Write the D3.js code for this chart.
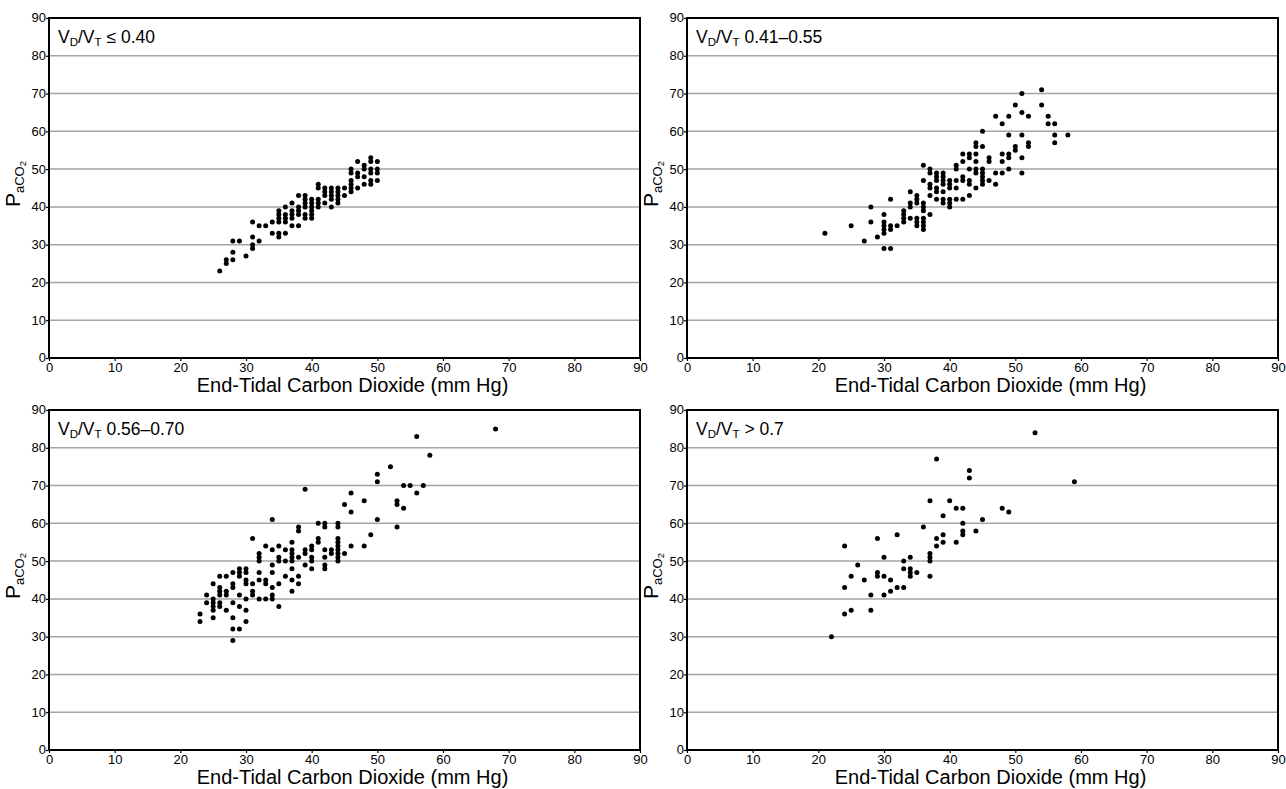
<!DOCTYPE html>
<meta charset="utf-8">
<style>
body { margin: 0; background: #fff; }
text { font-family: "Liberation Sans", Arial, sans-serif; fill: #000; }
.tick text { font-family: "Liberation Sans Narrow", "Liberation Sans", Arial, sans-serif; }
</style>
<svg width="1286" height="789"></svg>
<script src="https://d3js.org/d3.v7.min.js"></script>
<script>
// axis ticks (both axes run 0-90 mm Hg)
var tickValues = [0, 10, 20, 30, 40, 50, 60, 70, 80, 90];
var gridValues = [10, 20, 30, 40, 50, 60, 70, 80];

// panel labels, VD/VT ranges
var ranges = ["\u2264 0.40", "0.41\u20130.55", "0.56\u20130.70", "> 0.7"];

// [end-tidal CO2, PaCO2]
var lowVd = [
  [26,23],[27,25],[27,26],[28,26],[28,28],[28,31],[29,31],[30,27],
  [31,29],[31,30],[31,32],[31,36],[32,31],[32,35],[33,35],[34,33],[34,36],
  [35,32],[35,33],[35,36],[35,37],[35,38],[35,39],
  [36,33],[36,36],[36,37],[36,38],[36,40],
  [37,35],[37,37],[37,38],[37,39],[37,41],
  [38,35],[38,38],[38,39],[38,40],[38,43],
  [39,37],[39,38],[39,40],[39,41],[39,42],[39,43],
  [40,37],[40,38],[40,39],[40,40],[40,41],[40,42],
  [41,40],[41,41],[41,42],[41,45],[41,46],
  [42,41],[42,43],[42,44],[42,45],
  [43,40],[43,42],[43,43],[43,44],[43,45],
  [44,41],[44,42],[44,43],[44,44],[44,45],
  [45,43],[45,45],
  [46,44],[46,45],[46,46],[46,47],[46,49],[46,50],
  [47,45],[47,48],[47,49],[47,52],
  [48,46],[48,48],[48,50],[48,51],
  [49,46],[49,47],[49,49],[49,50],[49,52],[49,53],
  [50,47],[50,49],[50,50],[50,52]
];

var midVd = [
  [21,33],[25,35],[27,31],[28,40],[28,36],[29,32],
  [30,38],[30,36],[30,35],[30,34],[30,33],[30,29],
  [31,42],[31,35],[31,34],[31,29],[32,35],
  [33,39],[33,38],[33,37],[33,36],
  [34,44],[34,41],[34,40],[34,37],
  [35,43],[35,42],[35,41],[35,37],[35,36],[35,35],
  [36,51],[36,47],[36,41],[36,40],[36,39],[36,37],[36,36],[36,35],[36,34],
  [37,50],[37,49],[37,46],[37,45],[37,43],[37,38],
  [38,49],[38,48],[38,47],[38,45],[38,44],[38,42],
  [39,49],[39,48],[39,47],[39,46],[39,44],[39,42],[39,41],
  [40,47],[40,46],[40,45],[40,42],[40,41],[40,40],
  [41,51],[41,50],[41,47],[41,45],[41,42],
  [42,54],[42,52],[42,48],[42,47],[42,42],
  [43,54],[43,53],[43,50],[43,47],[43,46],[43,43],
  [44,57],[44,56],[44,54],[44,52],[44,50],[44,49],[44,45],
  [45,60],[45,56],[45,50],[45,49],[45,48],[45,47],[45,46],
  [46,53],[46,52],[46,47],
  [47,64],[47,49],[47,46],
  [48,62],[48,54],[48,52],[48,49],
  [49,64],[49,59],[49,54],[49,53],[49,50],
  [50,67],[50,56],[50,55],
  [51,70],[51,65],[51,59],[51,53],[51,49],
  [52,64],[52,57],[52,56],
  [54,71],[54,67],[55,64],[55,62],
  [56,62],[56,59],[56,57],[58,59]
];

var highVd = [
  [23,36],[23,34],[24,41],[24,39],
  [25,44],[25,40],[25,39],[25,38],[25,37],[25,35],
  [26,46],[26,43],[26,42],[26,41],[26,39],[26,38],
  [27,46],[27,42],[27,41],[27,37],
  [28,47],[28,44],[28,43],[28,39],[28,35],[28,32],[28,29],
  [29,48],[29,47],[29,46],[29,41],[29,38],[29,32],
  [30,48],[30,47],[30,45],[30,44],[30,40],[30,37],[30,34],
  [31,56],[31,44],[31,42],[31,41],
  [32,52],[32,51],[32,50],[32,47],[32,45],[32,40],
  [33,54],[33,45],[33,44],[33,40],
  [34,61],[34,53],[34,49],[34,47],[34,43],[34,41],[34,40],
  [35,54],[35,51],[35,50],[35,44],[35,38],
  [36,53],[36,50],[36,46],
  [37,55],[37,53],[37,52],[37,51],[37,50],[37,48],[37,45],[37,42],
  [38,59],[38,58],[38,51],[38,46],[38,44],
  [39,69],[39,53],[39,52],[39,49],
  [40,54],[40,53],[40,51],[40,50],[40,48],
  [41,60],[41,56],[41,55],
  [42,60],[42,59],[42,53],[42,51],[42,49],[42,48],
  [43,53],[43,52],
  [44,60],[44,59],[44,56],[44,55],[44,54],[44,53],[44,52],[44,51],[44,50],
  [45,65],[45,52],[46,68],[46,63],[46,54],[48,66],[48,54],[49,57],
  [50,73],[50,71],[50,61],[52,75],[53,66],[53,65],[53,59],
  [54,70],[54,64],[55,70],[56,83],[56,68],[57,70],[58,78],[68,85]
];

var veryHighVd = [
  [22,30],[24,54],[24,43],[24,36],[25,46],[25,37],[26,49],[27,45],
  [28,41],[28,37],[29,56],[29,47],[29,46],[30,51],[30,46],[30,41],
  [31,45],[31,42],[32,57],[32,43],[33,50],[33,48],[33,43],
  [34,51],[34,48],[34,47],[34,46],[35,47],[36,59],
  [37,66],[37,52],[37,51],[37,50],[37,46],[38,77],[38,56],[38,54],
  [39,62],[39,57],[39,55],[40,66],[41,64],[41,55],
  [42,64],[42,60],[42,58],[42,57],[43,74],[43,72],[44,58],[45,61],
  [48,64],[49,63],[53,84],[59,71]
];

var svg = d3.select("svg");

var plotW = 591, plotH = 340;

var panels = [
  {range: ranges[0], data: lowVd, left: 49, top: 18},
  {range: ranges[1], data: midVd, left: 687, top: 18},
  {range: ranges[2], data: highVd, left: 49, top: 410},
  {range: ranges[3], data: veryHighVd, left: 687, top: 410}
];

var x = d3.scaleLinear().domain([0, 90]).range([0, plotW]);
var y = d3.scaleLinear().domain([0, 90]).range([plotH, 0]);

panels.forEach(function(p) {
  var g = svg.append("g").attr("transform", "translate(" + p.left + "," + p.top + ")");

  // horizontal gridlines
  g.append("g").selectAll("line")
    .data(gridValues)
    .join("line")
    .attr("x1", 0).attr("x2", plotW)
    .attr("y1", d => y(d)).attr("y2", d => y(d))
    .attr("stroke", "#a4a4a4")
    .attr("stroke-width", 1.5);

  var yAxis = g.append("g")
    .call(d3.axisLeft(y).tickValues(tickValues).tickSize(3).tickPadding(0));
  var xAxis = g.append("g")
    .attr("transform", "translate(0," + plotH + ")")
    .call(d3.axisBottom(x).tickValues(tickValues).tickSize(3).tickPadding(2));
  [yAxis, xAxis].forEach(function(a) {
    a.select(".domain").remove();
    a.selectAll(".tick line").attr("stroke", "#000").attr("stroke-width", 1.2);
    a.selectAll(".tick text").attr("font-size", 13).attr("font-family", null).attr("fill", "#000");
  });
  yAxis.selectAll(".tick text").attr("dy", "0.3em");

  // frame
  g.append("rect")
    .attr("width", plotW).attr("height", plotH)
    .attr("fill", "none")
    .attr("stroke", "#000")
    .attr("stroke-width", 2);

  // points
  g.append("g").selectAll("circle")
    .data(p.data)
    .join("circle")
    .attr("cx", d => x(d[0]))
    .attr("cy", d => y(d[1]))
    .attr("r", 2.5)
    .attr("fill", "#000");

  // panel label  VD/VT ...
  var t = g.append("text").attr("x", 9).attr("y", 25).attr("font-size", 17.5);
  t.append("tspan").text("V");
  t.append("tspan").attr("font-size", 11.5).attr("dy", 3).text("D");
  t.append("tspan").attr("dy", -3).text("/V");
  t.append("tspan").attr("font-size", 11.5).attr("dy", 3).text("T");
  t.append("tspan").attr("dy", -3).text(" " + p.range);

  // x axis title
  g.append("text")
    .attr("x", plotW / 2 + 8)
    .attr("y", plotH + 34)
    .attr("text-anchor", "middle")
    .attr("font-size", 20)
    .text("End-Tidal Carbon Dioxide (mm Hg)");

  // y axis title  PaCO2
  var yt = g.append("text")
    .attr("text-anchor", "middle")
    .attr("transform", "translate(-29," + (plotH / 2 - 4) + ") rotate(-90)")
    .attr("font-size", 21);
  yt.append("tspan").text("P");
  yt.append("tspan").attr("font-size", 13).attr("dy", 4).text("aCO");
  yt.append("tspan").attr("font-size", 9.5).attr("dy", 2).text("2");
});
</script>
